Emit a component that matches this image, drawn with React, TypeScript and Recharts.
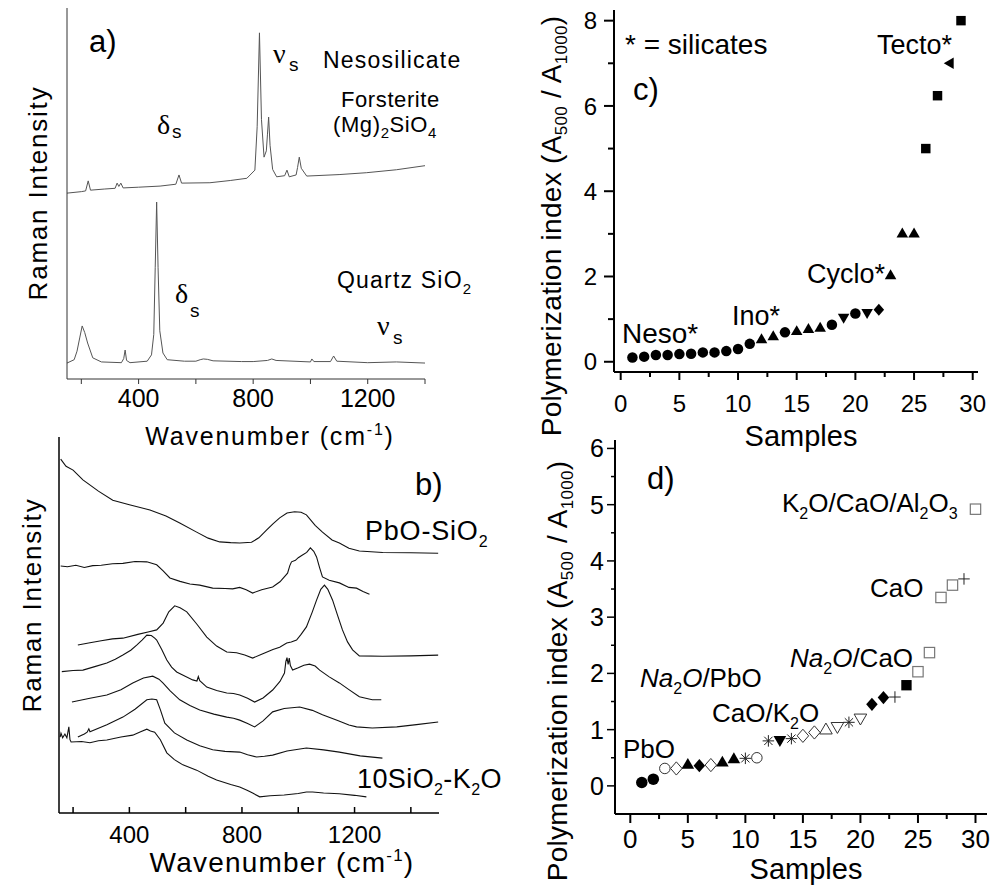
import React from "react";
import { LineChart, Line, XAxis, YAxis, ScatterChart, Scatter } from "recharts";

const W = 1002;
const H = 894;
const SANS = "'Liberation Sans', Arial, Helvetica, sans-serif";
const SERIF = "'Liberation Serif', 'Times New Roman', serif";

// ---- a) crystalline references: [wavenumber, intensity]
const forsterite: [number, number][] = [
  [150, 50.1], [200, 50.5], [215, 50.7], [224, 53.4], [232, 50.9], [280, 51.2], [318, 51.4],
  [325, 52.8], [331, 51.9], [338, 52.8], [346, 51.5], [400, 51.7], [475, 52.0], [530, 52.5],
  [541, 55.0], [550, 52.8], [649, 52.9], [720, 53.5], [778, 54.1], [806, 56.3], [814, 68],
  [822, 93.3], [829, 70], [838, 59.8], [846, 61.5], [850, 66], [854, 70.6], [859, 63],
  [868, 56.5], [882, 54.5], [910, 54.8], [918, 56.3], [926, 54.5], [950, 55.0], [955, 57.0],
  [961, 59.8], [968, 56.8], [987, 54.7], [1100, 55.1], [1195, 55.6], [1300, 56.4], [1400, 57.5],
];
const quartz: [number, number][] = [
  [150, 4.3], [175, 5.2], [185, 7.5], [195, 11.3], [203, 14.3], [212, 12.5], [222, 9.7],
  [240, 5.7], [270, 4.6], [340, 4.4], [348, 5.5], [353, 7.8], [358, 5.0], [370, 4.4],
  [430, 4.8], [445, 6.5], [453, 12], [458, 30], [463, 47.7], [468, 30], [474, 13], [485, 7],
  [500, 5.2], [560, 4.8], [600, 4.8], [615, 5.2], [626, 5.4], [640, 5.3], [660, 4.9],
  [760, 4.7], [800, 4.7], [850, 5.0], [865, 5.4], [880, 5.0], [1000, 4.6], [1005, 5.4],
  [1012, 4.7], [1070, 4.7], [1081, 6.2], [1092, 4.8], [1200, 4.4], [1300, 4.6], [1400, 4.3],
];

// ---- b) glass spectra, top to bottom
const glassPbO: [number, number][] = [
  [156, 94.1], [175, 92.2], [200, 91.2], [235, 88.6], [290, 85.6], [341, 83.2], [400, 82.0],
  [473, 80.6], [530, 79.0], [579, 77.1], [639, 74.7], [680, 73.1], [721, 72.1], [760, 71.9],
  [792, 71.8], [834, 72.0], [860, 73.2], [888, 75.3], [910, 76.9], [934, 78.5], [960, 79.8],
  [987, 80.1], [1010, 80.0], [1029, 79.3], [1060, 76.5], [1086, 74.7], [1120, 72.6],
  [1146, 71.8], [1180, 70.4], [1217, 69.7], [1300, 69.3], [1400, 69.2], [1497, 69.1],
];
const glass2: [number, number][] = [
  [156, 65.7], [180, 65.5], [210, 65.9], [240, 65.3], [270, 65.8], [300, 65.9], [340, 66.3],
  [377, 66.4], [420, 66.9], [462, 66.8], [497, 66.0], [520, 64.4], [544, 62.5], [580, 61.6],
  [615, 60.9], [650, 60.6], [696, 59.8], [740, 59.7], [767, 59.6], [792, 60.0], [815, 59.4],
  [838, 58.5], [870, 59.4], [909, 60.1], [935, 61.5], [962, 63.8], [970, 65.8], [976, 66.8],
  [990, 67.2], [1000, 67.9], [1015, 68.6], [1030, 69.3], [1043, 70.5], [1055, 69.6],
  [1065, 68.1], [1076, 65.2], [1086, 62.8], [1110, 61.9], [1146, 61.2], [1180, 60.0],
  [1207, 59.8], [1230, 58.9], [1253, 58.2],
];
const glass3: [number, number][] = [
  [217, 44.7], [260, 45.3], [300, 45.8], [340, 46.3], [377, 46.5], [430, 47.5], [470, 48.2],
  [497, 48.7], [520, 50.5], [540, 53.5], [561, 55.1], [580, 54.6], [604, 53.5], [640, 50.2],
  [675, 46.8], [710, 44.4], [746, 42.8], [781, 42.6], [810, 42.0], [838, 41.2], [870, 42.2],
  [910, 43.5], [934, 44.1], [959, 45.2], [975, 45.5], [994, 46.0], [1010, 47.5], [1029, 49.5],
  [1050, 53.5], [1065, 56.6], [1080, 59.5], [1093, 60.6], [1105, 59.5], [1122, 56.6],
  [1140, 52.5], [1157, 48.7], [1175, 45.5], [1193, 43.4], [1217, 41.8], [1300, 41.7],
  [1400, 41.8], [1497, 42.0],
];
const glass4: [number, number][] = [
  [160, 37.6], [200, 37.9], [235, 38.0], [280, 39.0], [320, 39.9], [350, 40.9], [377, 42.0],
  [405, 43.3], [427, 44.7], [445, 46.0], [462, 47.3], [478, 47.2], [490, 46.5], [497, 46.0],
  [515, 43.5], [533, 40.7], [550, 38.8], [568, 37.5], [600, 36.3], [625, 35.4], [640, 35.1],
  [645, 36.3], [650, 35.2], [675, 33.5], [710, 32.6], [746, 31.9], [770, 31.8], [792, 31.4],
  [820, 30.5], [845, 29.5], [875, 30.6], [909, 32.7], [935, 35.0], [951, 37.2], [956, 40.3],
  [960, 41.3], [964, 39.5], [968, 41.2], [972, 39.2], [980, 38.0], [1000, 38.6], [1020, 39.3],
  [1040, 39.6], [1060, 39.1], [1076, 38.0], [1110, 36.2], [1146, 34.6], [1180, 32.8],
  [1217, 30.9], [1263, 30.1], [1295, 30.1],
];
const glass5: [number, number][] = [
  [196, 29.5], [260, 30.5], [320, 31.4], [370, 32.8], [412, 34.6], [450, 35.9], [483, 36.4],
  [505, 35.6], [519, 34.6], [545, 32.5], [579, 30.1], [615, 28.6], [650, 27.4], [700, 26.3],
  [746, 25.5], [770, 25.2], [792, 24.7], [820, 23.8], [845, 22.9], [875, 24.5], [909, 26.9],
  [950, 27.8], [1005, 28.2], [1050, 27.3], [1086, 26.1], [1140, 24.6], [1180, 23.4],
  [1207, 22.9], [1263, 22.6], [1350, 22.9], [1420, 23.5], [1497, 24.2],
];
const glass6: [number, number][] = [
  [217, 20.2], [240, 21.0], [250, 21.5], [256, 22.4], [260, 21.6], [320, 23.5], [377, 25.5],
  [420, 27.6], [462, 30.1], [480, 30.3], [497, 30.1], [510, 27.5], [526, 23.9], [560, 21.3],
  [604, 19.4], [650, 17.9], [696, 16.8], [740, 16.4], [792, 16.2], [820, 15.5], [852, 14.9],
  [880, 15.1], [909, 15.4], [960, 16.5], [1029, 17.3], [1090, 16.8], [1146, 16.2],
  [1220, 15.2], [1299, 14.6],
];
const glassK2O: [number, number][] = [
  [154, 20.2], [157, 21.2], [163, 20.0], [171, 21.0], [178, 20.0], [185, 22.9], [189, 19.5],
  [193, 18.9], [230, 19.0], [260, 18.7], [290, 19.2], [320, 19.4], [370, 20.2], [412, 20.7],
  [440, 21.6], [462, 22.3], [475, 21.8], [490, 21.5], [510, 19.5], [533, 16.0], [560, 14.2],
  [590, 12.8], [639, 11.4], [680, 9.8], [710, 8.8], [760, 7.6], [792, 6.9], [820, 6.0],
  [838, 5.3], [863, 4.3], [900, 4.6], [950, 4.8], [1000, 5.2], [1029, 5.6], [1051, 5.6],
  [1090, 5.3], [1146, 5.1], [1200, 4.7], [1242, 4.3],
];
const glassSpectra = [glassPbO, glass2, glass3, glass4, glass5, glass6, glassK2O];

// ---- c) silicate minerals
const cSample = [1, 2, 3, 4, 5, 6, 7, 8, 9, 10, 11, 12, 13, 14, 15, 16, 17, 18, 19, 20, 21, 22, 23, 24, 25, 26, 27, 28, 29];
const cIndex = [0.10, 0.12, 0.16, 0.16, 0.18, 0.19, 0.22, 0.22, 0.25, 0.30, 0.42, 0.54, 0.61, 0.69, 0.73, 0.78, 0.81, 0.87, 1.02, 1.13, 1.13, 1.22, 2.04, 3.02, 3.02, 5.0, 6.24, 7.0, 8.0];
const cMarker = [
  "circle", "circle", "circle", "circle", "circle", "circle", "circle", "circle", "circle", "circle", "circle",
  "triUp", "triUp", "circle", "triUp", "triUp", "triUp", "circle", "triDown", "circle", "triDown", "diamond",
  "triUp", "triUp", "triUp", "square", "square", "triLeft", "square",
];

// ---- d) glasses
const dSample = [1, 2, 3, 4, 5, 6, 7, 8, 9, 10, 11, 12, 13, 14, 15, 16, 17, 18, 19, 20, 21, 22, 23, 24, 25, 26, 27, 28, 29, 30];
const dIndex = [0.06, 0.12, 0.31, 0.31, 0.39, 0.36, 0.37, 0.43, 0.49, 0.49, 0.50, 0.80, 0.80, 0.84, 0.89, 0.95, 1.01, 1.04, 1.13, 1.19, 1.45, 1.57, 1.58, 1.79, 2.03, 2.37, 3.35, 3.57, 3.68, 4.92];
const dMarker = [
  "circle", "circle", "openCircle", "openDiamond", "triUp", "diamond", "openDiamond", "triUp", "triUp", "asterisk",
  "openCircle", "asterisk", "triDown", "asterisk", "openDiamond", "openDiamond", "openTriUp", "openTriDown", "asterisk", "openTriDown",
  "diamond", "diamond", "plus", "square", "openSquare", "openSquare", "openSquare", "openSquare", "plus", "openSquare",
];

// ---- ticks
const waveTicks = [200, 400, 600, 800, 1000, 1200, 1400];
const waveMajor = [400, 800, 1200];
const sampleTicks = [0, 2.5, 5, 7.5, 10, 12.5, 15, 17.5, 20, 22.5, 25, 27.5, 30];
const sampleMajor = [0, 5, 10, 15, 20, 25, 30];
const cYTicks = [0, 1, 2, 3, 4, 5, 6, 7, 8];
const cYMajor = [0, 2, 4, 6, 8];
const dYTicks = [0, 0.5, 1, 1.5, 2, 2.5, 3, 3.5, 4, 4.5, 5, 5.5, 6];
const dYMajor = [0, 1, 2, 3, 4, 5, 6];

const spectrum = (arr: [number, number][]) => arr.map(([wn, i]) => ({ wn, i }));
const scatterRows = (xs: number[], ys: number[], kinds: string[]) =>
  xs.map((x, k) => ({ x, y: ys[k], kind: kinds[k] }));

type TickCfg = {
  side: "bottom" | "left";
  major: number[];
  len: number;
  minor: number;
  dir: 1 | -1;
  gap: number;
  size: number;
  width: number;
  color?: string;
};

// tickSize/tickMargin are 0, so (x, y) is the point on the axis line itself
const tickOf = (c: TickCfg) => (p: any) => {
  const v = Number(p.payload?.value);
  const big = c.major.some((m) => Math.abs(m - v) < 1e-9);
  const l = (big ? c.len : c.minor) * c.dir;
  const stroke = c.color ?? "#000";
  if (c.side === "bottom") {
    return (
      <g>
        <line x1={p.x} y1={p.y} x2={p.x} y2={p.y + l} stroke={stroke} strokeWidth={c.width} />
        {big && (
          <text x={p.x} y={p.y + c.gap} textAnchor="middle" fontSize={c.size} fontFamily={SANS} fill="#000">
            {v}
          </text>
        )}
      </g>
    );
  }
  return (
    <g>
      <line x1={p.x} y1={p.y} x2={p.x - l} y2={p.y} stroke={stroke} strokeWidth={c.width} />
      {big && (
        <text x={p.x - c.gap} y={p.y + c.size * 0.36} textAnchor="end" fontSize={c.size} fontFamily={SANS} fill="#000">
          {v}
        </text>
      )}
    </g>
  );
};

function Marker({ cx, cy, kind, s }: { cx: number; cy: number; kind: string; s: number }) {
  const h = s / 2;
  const open = { fill: "none", stroke: "#333", strokeWidth: 1 };
  const tri = (dir: "up" | "down" | "left") => {
    if (dir === "up") return `${cx},${cy - h * 1.05} ${cx - h * 1.1},${cy + h * 0.85} ${cx + h * 1.1},${cy + h * 0.85}`;
    if (dir === "down") return `${cx},${cy + h * 1.05} ${cx - h * 1.1},${cy - h * 0.85} ${cx + h * 1.1},${cy - h * 0.85}`;
    return `${cx - h * 1.05},${cy} ${cx + h * 0.85},${cy - h * 1.1} ${cx + h * 0.85},${cy + h * 1.1}`;
  };
  const dia = `${cx},${cy - h * 1.15} ${cx + h},${cy} ${cx},${cy + h * 1.15} ${cx - h},${cy}`;
  switch (kind) {
    case "circle":
      return <circle cx={cx} cy={cy} r={h} fill="#000" />;
    case "openCircle":
      return <circle cx={cx} cy={cy} r={h - 0.5} {...open} />;
    case "square":
      return <rect x={cx - h * 0.9} y={cy - h * 0.9} width={h * 1.8} height={h * 1.8} fill="#000" />;
    case "openSquare":
      return <rect x={cx - h * 0.9} y={cy - h * 0.9} width={h * 1.8} height={h * 1.8} fill="none" stroke="#777" strokeWidth={1.2} />;
    case "triUp":
      return <polygon points={tri("up")} fill="#000" />;
    case "triDown":
      return <polygon points={tri("down")} fill="#000" />;
    case "triLeft":
      return <polygon points={tri("left")} fill="#000" />;
    case "openTriUp":
      return <polygon points={tri("up")} {...open} />;
    case "openTriDown":
      return <polygon points={tri("down")} {...open} />;
    case "diamond":
      return <polygon points={dia} fill="#000" />;
    case "openDiamond":
      return <polygon points={dia} {...open} />;
    case "asterisk":
      return (
        <g stroke="#222" strokeWidth={1}>
          <line x1={cx - h} y1={cy} x2={cx + h} y2={cy} />
          <line x1={cx} y1={cy - h} x2={cx} y2={cy + h} />
          <line x1={cx - h * 0.72} y1={cy - h * 0.72} x2={cx + h * 0.72} y2={cy + h * 0.72} />
          <line x1={cx - h * 0.72} y1={cy + h * 0.72} x2={cx + h * 0.72} y2={cy - h * 0.72} />
        </g>
      );
    case "plus":
      return (
        <g stroke="#222" strokeWidth={1}>
          <line x1={cx - h} y1={cy} x2={cx + h} y2={cy} />
          <line x1={cx} y1={cy - h} x2={cx} y2={cy + h} />
        </g>
      );
    default:
      return null;
  }
}

const Layer = ({ children }: { children: React.ReactNode }) => (
  <div style={{ position: "absolute", left: 0, top: 0 }}>{children}</div>
);

// plot boxes: left, top, right, bottom
const boxA = { l: 67, t: 8, r: 425, b: 379 };
const boxB = { l: 59, t: 437, r: 439, b: 813 };
const boxC = { l: 614, t: 10, r: 978, b: 372 };
const boxD = { l: 615, t: 440, r: 987, b: 814 };
// the axes take a 1px band each
const marginOf = (bx: { l: number; t: number; r: number; b: number }) => ({
  left: bx.l - 1,
  top: bx.t,
  right: W - bx.r,
  bottom: H - bx.b - 1,
});

function PanelA() {
  return (
    <LineChart width={W} height={H} margin={marginOf(boxA)}>
      <XAxis
        type="number"
        dataKey="wn"
        domain={[150, 1400]}
        allowDataOverflow
        ticks={waveTicks}
        interval={0}
        height={1}
        tickSize={0}
        tickMargin={0}
        tickLine={false}
        axisLine={{ stroke: "#333", strokeWidth: 1 }}
        tick={tickOf({ side: "bottom", major: waveMajor, len: 5, minor: 5, dir: 1, gap: 28, size: 25, width: 1, color: "#333" })}
      />
      <YAxis type="number" domain={[0, 100]} allowDataOverflow width={1} tick={false} tickLine={false} axisLine={{ stroke: "#333", strokeWidth: 1 }} />
      <Line data={spectrum(forsterite)} dataKey="i" type="linear" dot={false} stroke="#555" strokeWidth={1} isAnimationActive={false} />
      <Line data={spectrum(quartz)} dataKey="i" type="linear" dot={false} stroke="#555" strokeWidth={1} isAnimationActive={false} />
    </LineChart>
  );
}

function PanelB() {
  return (
    <LineChart width={W} height={H} margin={marginOf(boxB)}>
      <XAxis
        type="number"
        dataKey="wn"
        domain={[150, 1500]}
        allowDataOverflow
        ticks={waveTicks}
        interval={0}
        height={1}
        tickSize={0}
        tickMargin={0}
        tickLine={false}
        axisLine={{ stroke: "#000", strokeWidth: 1.5 }}
        tick={tickOf({ side: "bottom", major: waveMajor, len: 6, minor: 6, dir: -1, gap: 30, size: 24, width: 1.5 })}
      />
      <YAxis type="number" domain={[0, 100]} allowDataOverflow width={1} tick={false} tickLine={false} axisLine={{ stroke: "#000", strokeWidth: 1.5 }} />
      {glassSpectra.map((s, k) => (
        <Line key={k} data={spectrum(s)} dataKey="i" type="linear" dot={false} stroke="#111" strokeWidth={1.1} isAnimationActive={false} />
      ))}
    </LineChart>
  );
}

function PanelC() {
  return (
    <ScatterChart width={W} height={H} margin={marginOf(boxC)}>
      <XAxis
        type="number"
        dataKey="x"
        domain={[-0.57, 30.45]}
        allowDataOverflow
        ticks={sampleTicks}
        interval={0}
        height={1}
        tickSize={0}
        tickMargin={0}
        tickLine={false}
        axisLine={{ stroke: "#000", strokeWidth: 2 }}
        tick={tickOf({ side: "bottom", major: sampleMajor, len: 8, minor: 5, dir: 1, gap: 40, size: 24, width: 2 })}
      />
      <YAxis
        type="number"
        dataKey="y"
        domain={[-0.24, 8.25]}
        allowDataOverflow
        ticks={cYTicks}
        interval={0}
        width={1}
        tickSize={0}
        tickMargin={0}
        tickLine={false}
        axisLine={{ stroke: "#000", strokeWidth: 2 }}
        tick={tickOf({ side: "left", major: cYMajor, len: 10, minor: 6, dir: 1, gap: 17, size: 24, width: 2 })}
      />
      <Scatter
        data={scatterRows(cSample, cIndex, cMarker)}
        isAnimationActive={false}
        shape={(p: any) => <Marker cx={p.cx} cy={p.cy} kind={p.payload.kind} s={10.5} />}
      />
    </ScatterChart>
  );
}

function PanelD() {
  return (
    <ScatterChart width={W} height={H} margin={marginOf(boxD)}>
      <XAxis
        type="number"
        dataKey="x"
        domain={[-1.33, 31]}
        allowDataOverflow
        ticks={sampleTicks}
        interval={0}
        height={1}
        tickSize={0}
        tickMargin={0}
        tickLine={false}
        axisLine={{ stroke: "#000", strokeWidth: 2 }}
        tick={tickOf({ side: "bottom", major: sampleMajor, len: 9, minor: 5, dir: 1, gap: 34, size: 26, width: 2 })}
      />
      <YAxis
        type="number"
        dataKey="y"
        domain={[-0.5, 6.15]}
        allowDataOverflow
        ticks={dYTicks}
        interval={0}
        width={1}
        tickSize={0}
        tickMargin={0}
        tickLine={false}
        axisLine={{ stroke: "#000", strokeWidth: 2 }}
        tick={tickOf({ side: "left", major: dYMajor, len: 8, minor: 4, dir: 1, gap: 11, size: 25, width: 1.5 })}
      />
      <Scatter
        data={scatterRows(dSample, dIndex, dMarker)}
        isAnimationActive={false}
        shape={(p: any) => <Marker cx={p.cx} cy={p.cy} kind={p.payload.kind} s={11.5} />}
      />
    </ScatterChart>
  );
}

function Labels() {
  const sub = 16;
  return (
    <svg width={W} height={H} style={{ position: "absolute", left: 0, top: 0 }} fontFamily={SANS} fill="#000">
      {/* a) */}
      <text x={89} y={52} fontSize={31}>a)</text>
      <text x={273} y={63} fontSize={28} fontFamily={SERIF}>ν</text>
      <text x={289} y={71} fontSize={19}>s</text>
      <text x={323} y={68} fontSize={23} letterSpacing={1.2}>Nesosilicate</text>
      <text x={341} y={107} fontSize={22} letterSpacing={0.6}>Forsterite</text>
      <text x={333} y={132} fontSize={22} letterSpacing={0.6}>
        (Mg)<tspan fontSize={15} dy={6}>2</tspan><tspan dy={-6}>SiO</tspan><tspan fontSize={15} dy={6}>4</tspan>
      </text>
      <text x={157} y={134} fontSize={28} fontFamily={SERIF}>δ</text>
      <text x={172} y={138} fontSize={19}>s</text>
      <text x={337} y={288} fontSize={23} letterSpacing={1.2}>
        Quartz SiO<tspan fontSize={15} dy={6}>2</tspan>
      </text>
      <text x={175} y={303} fontSize={28} fontFamily={SERIF}>δ</text>
      <text x={190} y={317} fontSize={19}>s</text>
      <text x={377} y={335} fontSize={28} fontFamily={SERIF}>ν</text>
      <text x={393} y={344} fontSize={19}>s</text>
      <text x={270} y={445} fontSize={25} letterSpacing={1.8} textAnchor="middle">
        Wavenumber (cm<tspan fontSize={16} dy={-10}>-1</tspan><tspan dy={10}>)</tspan>
      </text>
      <text transform="translate(47,193) rotate(-90)" fontSize={26} letterSpacing={1.8} textAnchor="middle">
        Raman Intensity
      </text>

      {/* b) */}
      <text x={415} y={495} fontSize={31}>b)</text>
      <text x={365} y={540} fontSize={27} letterSpacing={0.8}>
        PbO-SiO<tspan fontSize={sub} dy={7}>2</tspan>
      </text>
      <text x={357} y={788} fontSize={27} letterSpacing={0.4}>
        10SiO<tspan fontSize={sub} dy={7}>2</tspan><tspan dy={-7}>-K</tspan><tspan fontSize={sub} dy={7}>2</tspan><tspan dy={-7}>O</tspan>
      </text>
      <text x={282} y={872} fontSize={28} letterSpacing={1.2} textAnchor="middle">
        Wavenumber (cm<tspan fontSize={17} dy={-11}>-1</tspan><tspan dy={11}>)</tspan>
      </text>
      <text transform="translate(41,605) rotate(-90)" fontSize={26} letterSpacing={1.8} textAnchor="middle">
        Raman Intensity
      </text>

      {/* c) */}
      <text x={625} y={54} fontSize={28}>* = silicates</text>
      <text x={877} y={54} fontSize={27}>Tecto*</text>
      <text x={633} y={100} fontSize={31}>c)</text>
      <text x={622} y={343} fontSize={28}>Neso*</text>
      <text x={732} y={325} fontSize={27}>Ino*</text>
      <text x={807} y={283} fontSize={27}>Cyclo*</text>
      <text x={801} y={446} fontSize={29} textAnchor="middle">Samples</text>
      <text transform="translate(561,226) rotate(-90)" fontSize={28} letterSpacing={0.3} textAnchor="middle">
        Polymerization index (A<tspan fontSize={17} dy={6}>500</tspan><tspan dy={-6}> / A</tspan>
        <tspan fontSize={17} dy={6}>1000</tspan><tspan dy={-6}>)</tspan>
      </text>

      {/* d) */}
      <text x={647} y={489} fontSize={31}>d)</text>
      <text x={782} y={512} fontSize={26}>
        K<tspan fontSize={sub} dy={7}>2</tspan><tspan dy={-7}>O/CaO/Al</tspan><tspan fontSize={sub} dy={7}>2</tspan>
        <tspan dy={-7}>O</tspan><tspan fontSize={sub} dy={7}>3</tspan>
      </text>
      <text x={870} y={597} fontSize={26}>CaO</text>
      <text x={790} y={667} fontSize={26}>
        <tspan fontStyle="italic">Na</tspan><tspan fontSize={sub} dy={7}>2</tspan><tspan dy={-7} fontStyle="italic">O</tspan>
        <tspan>/CaO</tspan>
      </text>
      <text x={640} y={687} fontSize={26}>
        <tspan fontStyle="italic">Na</tspan><tspan fontSize={sub} dy={7}>2</tspan><tspan dy={-7} fontStyle="italic">O</tspan>
        <tspan>/PbO</tspan>
      </text>
      <text x={712} y={722} fontSize={26}>
        CaO/K<tspan fontSize={sub} dy={7}>2</tspan><tspan dy={-7}>O</tspan>
      </text>
      <text x={623} y={758} fontSize={26}>PbO</text>
      <text x={806} y={879} fontSize={29} textAnchor="middle">Samples</text>
      <text transform="translate(567,671) rotate(-90)" fontSize={28} letterSpacing={0.3} textAnchor="middle">
        Polymerization index (A<tspan fontSize={17} dy={6}>500</tspan><tspan dy={-6}> / A</tspan>
        <tspan fontSize={17} dy={6}>1000</tspan><tspan dy={-6}>)</tspan>
      </text>
    </svg>
  );
}

export default function App() {
  return (
    <div style={{ position: "absolute", left: 0, top: 0, width: W, height: H, background: "#fff", overflow: "hidden" }}>
      <Layer><PanelA /></Layer>
      <Layer><PanelB /></Layer>
      <Layer><PanelC /></Layer>
      <Layer><PanelD /></Layer>
      <Labels />
    </div>
  );
}
